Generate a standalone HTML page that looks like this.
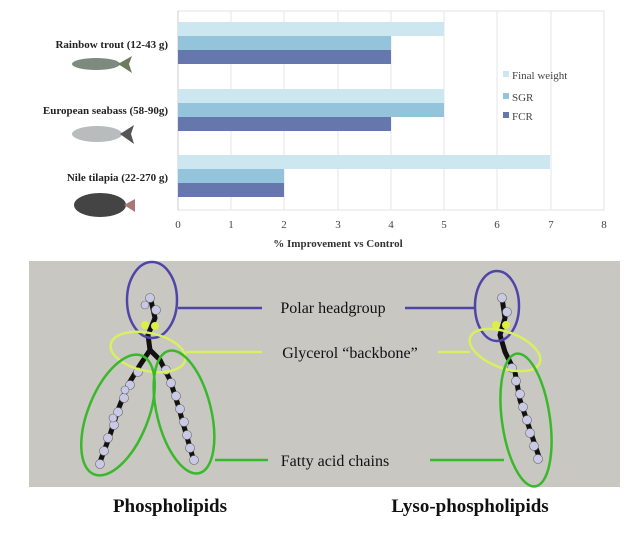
<!DOCTYPE html>
<html><head><meta charset="utf-8"><style>
body{margin:0;background:#fff;width:640px;height:530px;overflow:hidden}
</style></head><body>
<svg width="640" height="530" xmlns="http://www.w3.org/2000/svg" font-family="Liberation Serif, serif">
<!-- chart -->
<rect x="178" y="11" width="426" height="199" fill="#fff" stroke="#e3e3e3"/>
<g stroke="#e6e6e6">
<line x1="231" y1="11" x2="231" y2="210"/><line x1="284" y1="11" x2="284" y2="210"/><line x1="338" y1="11" x2="338" y2="210"/>
<line x1="391" y1="11" x2="391" y2="210"/><line x1="444" y1="11" x2="444" y2="210"/><line x1="497" y1="11" x2="497" y2="210"/><line x1="551" y1="11" x2="551" y2="210"/>
</g>
<line x1="178" y1="11" x2="178" y2="210" stroke="#ccc"/>
<g>
<rect x="178" y="22" width="266" height="14" fill="#cde7f0"/>
<rect x="178" y="36" width="213" height="14" fill="#93c4dc"/>
<rect x="178" y="50" width="213" height="14" fill="#6677ad"/>
<rect x="178" y="89" width="266" height="14" fill="#cde7f0"/>
<rect x="178" y="103" width="266" height="14" fill="#93c4dc"/>
<rect x="178" y="117" width="213" height="14" fill="#6677ad"/>
<rect x="178" y="155" width="372" height="14" fill="#cde7f0"/>
<rect x="178" y="169" width="106" height="14" fill="#93c4dc"/>
<rect x="178" y="183" width="106" height="14" fill="#6677ad"/>
</g>
<g font-size="11" fill="#444" text-anchor="middle">
<text x="178" y="228">0</text><text x="231" y="228">1</text><text x="284" y="228">2</text><text x="338" y="228">3</text><text x="391" y="228">4</text><text x="444" y="228">5</text><text x="497" y="228">6</text><text x="551" y="228">7</text><text x="604" y="228">8</text>
</g>
<text x="338" y="247" font-size="11" font-weight="bold" text-anchor="middle" fill="#333">% Improvement vs Control</text>
<g font-size="11" fill="#444">
<rect x="503" y="71" width="6" height="6" fill="#cde7f0"/><text x="512" y="79">Final weight</text>
<rect x="503" y="93" width="6" height="6" fill="#93c4dc"/><text x="512" y="101">SGR</text>
<rect x="503" y="112" width="6" height="6" fill="#6677ad"/><text x="512" y="120">FCR</text>
</g>
<g font-size="11" font-weight="bold" text-anchor="end" fill="#222">
<text x="168" y="48">Rainbow trout (12-43 g)</text>
<text x="168" y="114">European seabass (58-90g)</text>
<text x="168" y="181">Nile tilapia (22-270 g)</text>
</g>
<!-- fish -->
<g>
<ellipse cx="96" cy="64" rx="24" ry="6" fill="#7d8a80"/><polygon points="118,64 132,56 129,64 132,73" fill="#6d7a5e"/>
<ellipse cx="97" cy="134" rx="25" ry="8" fill="#b8bcbc"/><polygon points="120,134 134,125 131,134 134,144" fill="#555"/>
<ellipse cx="100" cy="205" rx="26" ry="12" fill="#444"/><polygon points="124,205 135,199 135,212" fill="#a77"/>
</g>
<!-- lower panel -->
<rect x="29" y="261" width="591" height="226" fill="#c9c7c2"/>
<defs>
<g id="a"><circle r="4.5" fill="#c9c9e6" stroke="#777" stroke-width="0.5"/></g>
</defs>
<!-- left molecule chains -->
<g stroke="#111" stroke-width="5" fill="none" stroke-linecap="round">
<path d="M150 296 L155 318 L148 335 L150 350 L140 365 L128 385 L118 410 L110 435 L100 462"/>
<path d="M150 350 L160 360 L170 380 L178 405 L185 430 L193 458"/>
<path d="M502 298 L505 318 L500 335 L505 352 L515 372 L520 400 L530 430 L540 460"/>
</g>
<g fill="#c9c9e6" stroke="#666" stroke-width="0.6">
<circle cx="150" cy="298" r="4.5"/><circle cx="156" cy="310" r="4.5"/><circle cx="145" cy="305" r="4"/>
<circle cx="138" cy="372" r="4.5"/><circle cx="130" cy="385" r="4.5"/><circle cx="124" cy="398" r="4.5"/><circle cx="118" cy="412" r="4.5"/><circle cx="114" cy="425" r="4.5"/><circle cx="108" cy="438" r="4.5"/><circle cx="104" cy="451" r="4.5"/><circle cx="100" cy="464" r="4.5"/><circle cx="125" cy="390" r="4"/><circle cx="113" cy="418" r="4"/>
<circle cx="166" cy="370" r="4.5"/><circle cx="171" cy="383" r="4.5"/><circle cx="176" cy="396" r="4.5"/><circle cx="180" cy="409" r="4.5"/><circle cx="184" cy="422" r="4.5"/><circle cx="187" cy="435" r="4.5"/><circle cx="190" cy="448" r="4.5"/><circle cx="194" cy="460" r="4.5"/>
<circle cx="502" cy="298" r="4.5"/><circle cx="507" cy="312" r="4.5"/><circle cx="512" cy="368" r="4.5"/><circle cx="516" cy="381" r="4.5"/><circle cx="520" cy="394" r="4.5"/><circle cx="523" cy="407" r="4.5"/><circle cx="527" cy="420" r="4.5"/><circle cx="530" cy="433" r="4.5"/><circle cx="534" cy="446" r="4.5"/><circle cx="538" cy="459" r="4.5"/>
</g>
<g fill="#ddf040"><circle cx="145" cy="325" r="4"/><circle cx="155" cy="326" r="4"/><circle cx="496" cy="325" r="4"/><circle cx="506" cy="325" r="4"/></g>
<!-- ellipses -->
<g fill="none" stroke-width="2.5">
<ellipse cx="152" cy="300" rx="25" ry="38" stroke="#4f45a8"/>
<ellipse cx="497" cy="306" rx="22" ry="35" stroke="#4f45a8"/>
<ellipse cx="148" cy="352" rx="38" ry="19" transform="rotate(12 148 352)" stroke="#d8f060"/>
<ellipse cx="505" cy="350" rx="37" ry="18" transform="rotate(20 505 350)" stroke="#d8f060"/>
<ellipse cx="118" cy="415" rx="30" ry="64" transform="rotate(22 118 415)" stroke="#3ab82c"/>
<ellipse cx="184" cy="412" rx="27" ry="63" transform="rotate(-14 184 412)" stroke="#3ab82c"/>
<ellipse cx="526" cy="420" rx="24" ry="67" transform="rotate(-8 526 420)" stroke="#3ab82c"/>
</g>
<g stroke-width="2.5">
<line x1="178" y1="308" x2="262" y2="308" stroke="#4f45a8"/><line x1="405" y1="308" x2="475" y2="308" stroke="#4f45a8"/>
<line x1="186" y1="352" x2="262" y2="352" stroke="#d8f060"/><line x1="438" y1="352" x2="470" y2="352" stroke="#d8f060"/>
<line x1="215" y1="460" x2="268" y2="460" stroke="#3ab82c"/><line x1="430" y1="460" x2="504" y2="460" stroke="#3ab82c"/>
</g>
<g font-size="16" fill="#111" text-anchor="middle">
<text x="333" y="313">Polar headgroup</text>
<text x="350" y="358">Glycerol “backbone”</text>
<text x="335" y="466">Fatty acid chains</text>
</g>
<g font-size="19" font-weight="bold" fill="#111" text-anchor="middle">
<text x="170" y="512">Phospholipids</text>
<text x="470" y="512">Lyso-phospholipids</text>
</g>
</svg>
</body></html>
